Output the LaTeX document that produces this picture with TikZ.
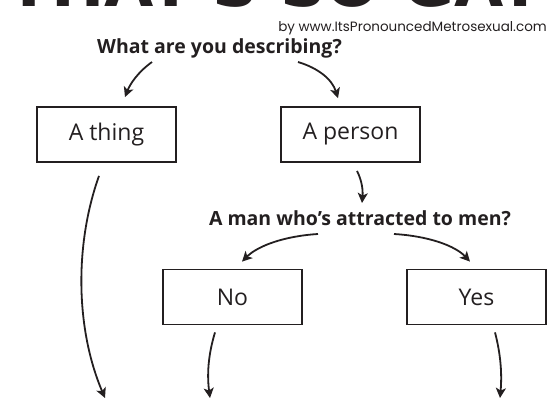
\documentclass[tikz,border=0pt]{standalone}
\usepackage{fontspec}
\usepackage{tikz}
\usetikzlibrary{arrows.meta,calc}
\setmainfont{Open Sans}
\newfontfamily\titlefont{DejaVu Sans}
\newfontfamily\handfont{Poppins}
\definecolor{ink}{RGB}{35,31,32}

\begin{document}
\begin{tikzpicture}[x=1pt,y=-1pt,
    box/.style={draw=ink,line width=1.8pt,minimum width=139pt,minimum height=55pt,inner sep=0pt,text=ink,font=\fontsize{23}{23}\selectfont},
    quest/.style={anchor=base,inner sep=0pt,text=ink,font=\bfseries\fontsize{19.5}{19.5}\selectfont},
    arr/.style={draw=ink,line width=1.8pt,-{Stealth[length=10pt,width=10pt,inset=2.5pt]}}]
    \useasboundingbox (0,0) rectangle (556,400);
    \clip (0,0) rectangle (556,400);
    \node[anchor=base,inner sep=0pt,text=ink] (title) at (276,6) {\resizebox{536pt}{!}{\titlefont\bfseries THAT'S SO GAY}};
    \node[anchor=base east,inner sep=0pt,text=ink,font=\handfont\fontsize{13.5}{13.5}\selectfont] (by) at (547,31) {by www.ItsPronouncedMetrosexual.com};
    \node[quest] (desc) at (219.5,53) {What are you describing?};
    \node[box] (thing) at (106.5,134.5) {A thing};
    \node[box] (person) at (350.5,134.5) {A person};
    \node[quest] (man) at (360,225) {A man who’s attracted to men?};
    \node[box] (no) at (232.5,297) {No};
    \node[box] (yes) at (476.5,297) {Yes};
    \coordinate (thingend) at (105,398);
    \coordinate (noend) at (210,398);
    \coordinate (yesend) at (500,398);
    \draw[arr] ($(desc.base)+(-67.5,9)$) .. controls +(-14,10) and +(5,-13) .. ($(thing.north)+(18.5,-9)$);
    \draw[arr] ($(desc.base)+(78.5,9)$) .. controls +(20,6) and +(-6,-19) .. ($(person.north)+(-12.5,-8)$);
    \draw[arr] ($(person.south)+(6.5,8)$) .. controls +(5,10) and +(1,-13) .. ($(man.base)+(2,-22)$);
    \draw[arr] ($(man.base)+(-42,9)$) .. controls +(-33,2) and +(16,-16) .. ($(no.north)+(9.5,-7)$);
    \draw[arr] ($(man.base)+(34,9)$) .. controls +(34,2) and +(-15,-16) .. ($(yes.north)+(-6.5,-7)$);
    \draw[arr] ($(thing.south)+(-7.5,13)$) .. controls +(-25,70) and +(-29,-68) .. (thingend);
    \draw[arr] ($(no.south)+(-17.5,7)$) .. controls +(-7,23) and +(-3,-23) .. (noend);
    \draw[arr] ($(yes.south)+(18.5,7)$) .. controls +(6,23) and +(2,-23) .. (yesend);
\end{tikzpicture}
\end{document}
